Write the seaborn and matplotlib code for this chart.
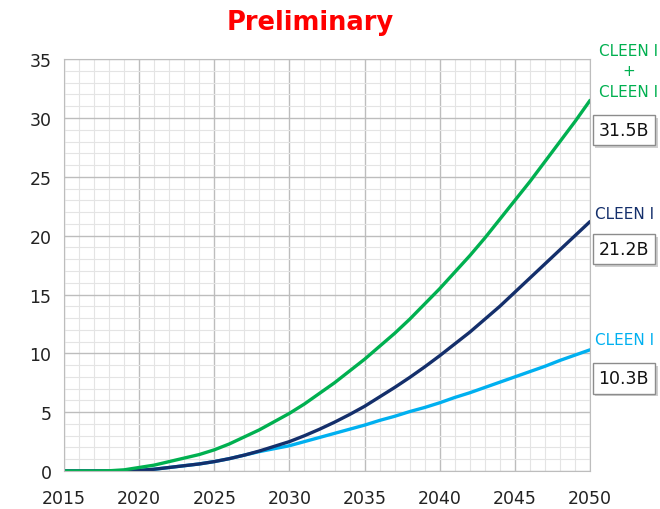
import numpy as np
import matplotlib.pyplot as plt
import matplotlib.patheffects as pe
import pandas as pd
import seaborn as sns

# values (billions, cumulative)
years = list(range(2015, 2051))
green = [0, 0, 0, 0.02, 0.1, 0.3, 0.5, 0.8, 1.1, 1.4, 1.8, 2.3, 2.9, 3.5, 4.2, 4.9,
         5.7, 6.6, 7.5, 8.5, 9.5, 10.6, 11.7, 12.9, 14.2, 15.5, 16.9, 18.3, 19.8,
         21.4, 23.0, 24.6, 26.3, 28.0, 29.7, 31.5]
navy = [0, 0, 0, 0, 0, 0.05, 0.15, 0.3, 0.45, 0.6, 0.8, 1.05, 1.35, 1.7, 2.1, 2.5,
        3.0, 3.55, 4.15, 4.8, 5.5, 6.3, 7.1, 7.95, 8.85, 9.8, 10.8, 11.8, 12.9,
        14.0, 15.2, 16.4, 17.6, 18.8, 20.0, 21.2]
light = [0, 0, 0, 0, 0, 0.05, 0.15, 0.3, 0.45, 0.6, 0.8, 1.05, 1.35, 1.65, 1.9, 2.15,
         2.5, 2.85, 3.2, 3.55, 3.9, 4.3, 4.65, 5.05, 5.4, 5.8, 6.25, 6.65, 7.1,
         7.55, 8.0, 8.45, 8.9, 9.4, 9.85, 10.3]
series_names = ["CLEEN I", "CLEEN II", "CLEEN I + CLEEN II"]
end_labels = ["10.3B", "21.2B", "31.5B"]
colors = ["#00B0F0", "#142F6B", "#00B050"]

sns.set_style("white")
plt.rcParams["font.family"] = ["DejaVu Sans"]

fig = plt.figure(figsize=(6.6, 5.1), dpi=100)
ax = fig.add_axes([0.097, 0.0745, 0.797, 0.8075])

# draw light blue first so navy sits on top where they overlap
for vals, name, c in zip([light, navy, green], series_names, colors):
    d = pd.DataFrame({"year": years, "value": vals})
    sns.lineplot(data=d, x="year", y="value", color=c, linewidth=2.4, ax=ax, label=name)
ax.get_legend().remove()

ax.set_xlim(2015, 2050)
ax.set_ylim(0, 35)
ax.set_xticks(range(2015, 2051, 5))
ax.set_yticks(range(0, 36, 5))
ax.set_xticks(range(2015, 2051, 1), minor=True)
ax.set_yticks(range(0, 36, 1), minor=True)
ax.grid(which="major", color="#bdbdbd", linewidth=1)
ax.grid(which="minor", color="#e4e4e4", linewidth=0.8)
ax.set_axisbelow(True)
for s in ax.spines.values():
    s.set_color("#bdbdbd")
ax.tick_params(which="both", length=0, labelsize=12.5, colors="#222222")
ax.tick_params(axis="x", pad=13)
ax.tick_params(axis="y", pad=9)
ax.set_xlabel("")
ax.set_ylabel("")

fig.text(0.47, 0.955, "Preliminary", color="#FF0000", fontsize=18.5,
         fontweight="bold", ha="center", va="center")

# right-hand labels
fig.text(0.952, 0.859, "CLEEN I\n+\nCLEEN I", color=colors[2], fontsize=11,
         ha="center", va="center", linespacing=1.45)
fig.text(0.902, 0.58, "CLEEN I", color=colors[1], fontsize=11, ha="left", va="center")
fig.text(0.902, 0.333, "CLEEN I", color=colors[0], fontsize=11, ha="left", va="center")

box = dict(boxstyle="square,pad=0.35", facecolor="white", edgecolor="#8c8c8c", linewidth=1)
for lbl, y in zip(end_labels, [0.256, 0.509, 0.743]):
    t = fig.text(0.907, y, lbl, fontsize=12.5, ha="left", va="center", color="#111111", bbox=box)
    t.get_bbox_patch().set_path_effects([
        pe.SimplePatchShadow(offset=(2, -2), shadow_rgbFace="#b0b0b0", alpha=0.6),
        pe.Normal()])

fig.savefig("out.png", dpi=100)
